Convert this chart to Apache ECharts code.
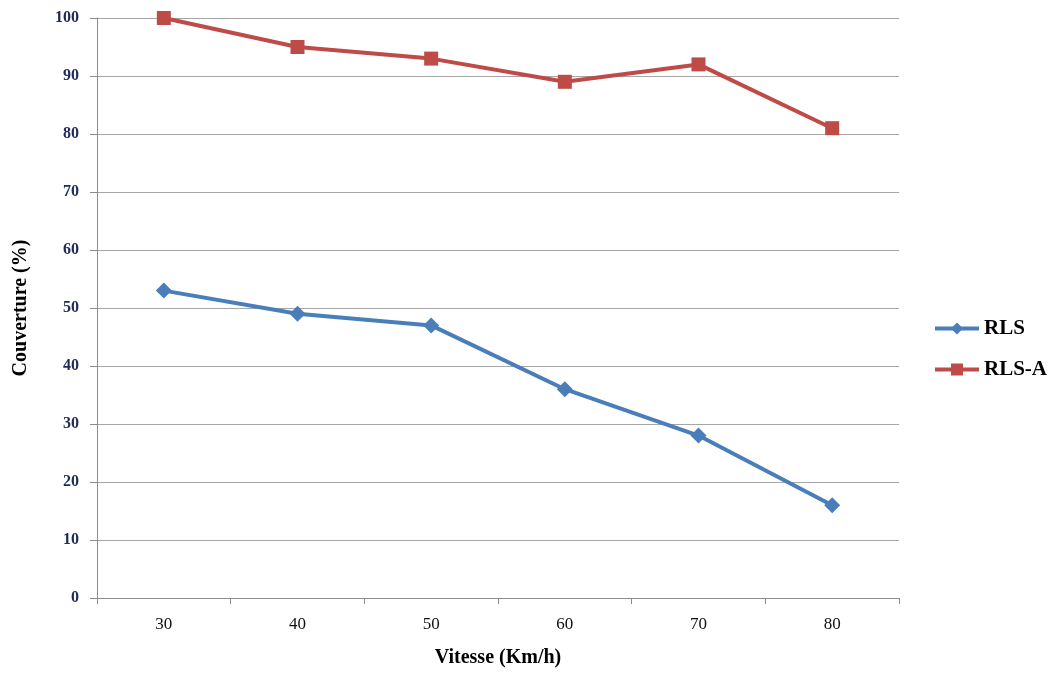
<!DOCTYPE html>
<html>
<head>
<meta charset="utf-8">
<script src="https://cdn.jsdelivr.net/npm/echarts@6/dist/echarts.min.js"></script>
<style>
  html, body { margin: 0; padding: 0; background: #fff; }
  #chart { width: 1062px; height: 675px; }
</style>
</head>
<body>
<div id="chart"></div>
<script>
// Couverture vs vitesse
var vitesse = ['30', '40', '50', '60', '70', '80'];
var rls = [53, 49, 47, 36, 28, 16];
var rlsA = [100, 95, 93, 89, 92, 81];
var yTicks = [0, 10, 20, 30, 40, 50, 60, 70, 80, 90, 100];

var serif = '"Liberation Serif", "Times New Roman", serif';

var option = {
    animation: false,
    backgroundColor: '#fff',
    textStyle: { fontFamily: serif },
    grid: { left: 97, right: 163, top: 18, bottom: 77 },
    legend: {
        orient: 'vertical',
        left: 928,
        top: 313,
        itemGap: 20,
        itemWidth: 44,
        itemHeight: 15,
        lineStyle: { width: 4 },
        textStyle: { fontFamily: serif, fontSize: 21, fontWeight: 'bold', color: '#000' },
        data: ['RLS', 'RLS-A']
    },
    xAxis: {
        type: 'category',
        data: vitesse,
        boundaryGap: true,
        name: 'Vitesse (Km/h)',
        nameLocation: 'middle',
        nameGap: 50,
        nameTextStyle: { fontFamily: serif, fontSize: 20, fontWeight: 'bold', color: '#000' },
        axisLine: { lineStyle: { color: '#8c8c8c', width: 1 } },
        axisTick: { show: true, inside: false, length: 6, alignWithLabel: false, lineStyle: { color: '#8c8c8c' } },
        axisLabel: { fontFamily: serif, fontSize: 17, color: '#111', margin: 18 },
        splitLine: { show: false }
    },
    yAxis: {
        type: 'value',
        min: yTicks[0],
        max: yTicks[yTicks.length - 1],
        interval: 10,
        name: 'Couverture (%)',
        nameLocation: 'middle',
        nameGap: 66,
        nameRotate: 90,
        nameTextStyle: { fontFamily: serif, fontSize: 20, fontWeight: 'bold', color: '#000' },
        axisLine: { show: true, lineStyle: { color: '#8c8c8c', width: 1 } },
        axisTick: { show: true, inside: false, length: 7, lineStyle: { color: '#8c8c8c', width: 1 } },
        axisLabel: { fontFamily: serif, fontSize: 16, fontWeight: 'bold', color: '#1f2a56', margin: 18 },
        splitLine: { show: true, lineStyle: { color: '#a6a6a6', width: 1 } }
    },
    series: [
        {
            name: 'RLS',
            type: 'line',
            data: rls,
            symbol: 'diamond',
            symbolSize: 16,
            lineStyle: { color: '#4a7ebb', width: 4 },
            itemStyle: { color: '#4a7ebb' }
        },
        {
            name: 'RLS-A',
            type: 'line',
            data: rlsA,
            symbol: 'rect',
            symbolSize: 14,
            lineStyle: { color: '#be4b48', width: 4 },
            itemStyle: { color: '#be4b48' }
        }
    ]
};

var chart = echarts.init(document.getElementById('chart'));
chart.setOption(option);
</script>
</body>
</html>
